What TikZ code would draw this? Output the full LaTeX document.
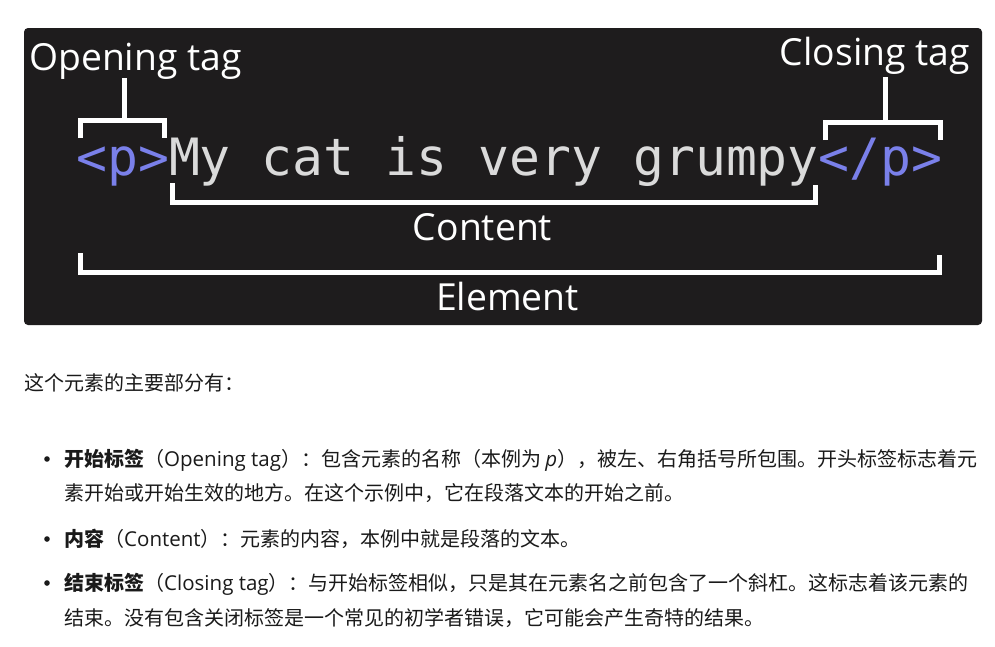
\documentclass[tikz,border=0pt]{standalone}
\usepackage{fontspec}
\setmainfont{Open Sans}
\newfontfamily\osans{Open Sans}
\newfontfamily\mono{DejaVu Sans Mono}
\newfontfamily\cjk{Noto Sans CJK SC}
\definecolor{boxbg}{RGB}{30,28,29}
\definecolor{codegrey}{RGB}{218,218,218}
\definecolor{tagblue}{RGB}{122,128,234}
\definecolor{bodytext}{RGB}{26,26,26}
\newcommand{\lat}[1]{{\osans\fontsize{20.5}{24}\selectfont #1}}
\tikzset{
  lbl/.style={inner sep=0pt, text=white, font=\osans\fontsize{37.3}{44}\selectfont},
  codetext/.style={inner sep=0pt, text=codegrey, font=\mono\fontsize{51.4}{60}\selectfont},
  brk/.style={draw=white, line width=5pt, line cap=butt, line join=miter},
  body/.style={inner sep=0pt, anchor=base west, text=bodytext, font=\cjk\fontsize{20}{24}\selectfont},
  dot/.style={circle, fill=bodytext, inner sep=0pt, minimum size=5.6pt}
}
\begin{document}
\begin{tikzpicture}[x=1pt,y=1pt]
\useasboundingbox[fill=white] (0,0) rectangle (995,-646);
\fill[boxbg, rounded corners=4pt] (24,-28) rectangle (982,-325);
% labels
\node[lbl, anchor=base west] (open) at (29,-70) {Opening tag};
\node[lbl, anchor=base east] (close) at (970,-65) {Closing tag};
\node[lbl, anchor=base] (content) at (482.5,-240) {Content};
\node[lbl, anchor=base] (element) at (507.5,-310) {Element};
\node[codetext, anchor=base west] (code) at (76,-175)
  {\textcolor{tagblue}{<p>}My cat is very grumpy\textcolor{tagblue}{</p>}};
% bracket points
\coordinate (o1) at (124,-78);
\coordinate (o2) at (124,-120.5);
\coordinate (c1) at (885,-77);
\coordinate (c2) at (885,-122);
% brackets
\draw[brk] (o1) -- (o2);
\draw[brk] (80.5,-138) -- (80.5,-120.5) -- (164,-120.5) -- (164,-138);
\draw[brk] (c1) -- (c2);
\draw[brk] (825,-140) -- (825,-122) -- (940,-122) -- (940,-140);
\draw[brk] (172,-183) -- (172,-202) -- (815,-202) -- (815,-185);
\draw[brk] (80.5,-253) -- (80.5,-272.5) -- (939,-272.5) -- (939,-255);
% body text
\node[body] (intro) at (24,-390.5) {这个元素的主要部分有：};
\node[dot] (b1) at (47,-459) {};
\node[body] (l1) at (64,-466.5) {{\bfseries 开始标签}（\lat{Opening tag}）：包含元素的名称（本例为 {\osans\itshape\fontsize{20.5}{24}\selectfont p}），被左、右角括号所包围。开头标签标志着元};
\node[body] (l2) at (64,-500.5) {素开始或开始生效的地方。在这个示例中，它在段落文本的开始之前。};
\node[dot] (b2) at (47,-539) {};
\node[body] (l3) at (64,-546.5) {{\bfseries 内容}（\lat{Content}）：元素的内容，本例中就是段落的文本。};
\node[dot] (b3) at (47,-583) {};
\node[body] (l4) at (64,-590.5) {{\bfseries 结束标签}（\lat{Closing tag}）：与开始标签相似，只是其在元素名之前包含了一个斜杠。这标志着该元素的};
\node[body] (l5) at (64,-625.5) {结束。没有包含关闭标签是一个常见的初学者错误，它可能会产生奇特的结果。};
\end{tikzpicture}
\end{document}
